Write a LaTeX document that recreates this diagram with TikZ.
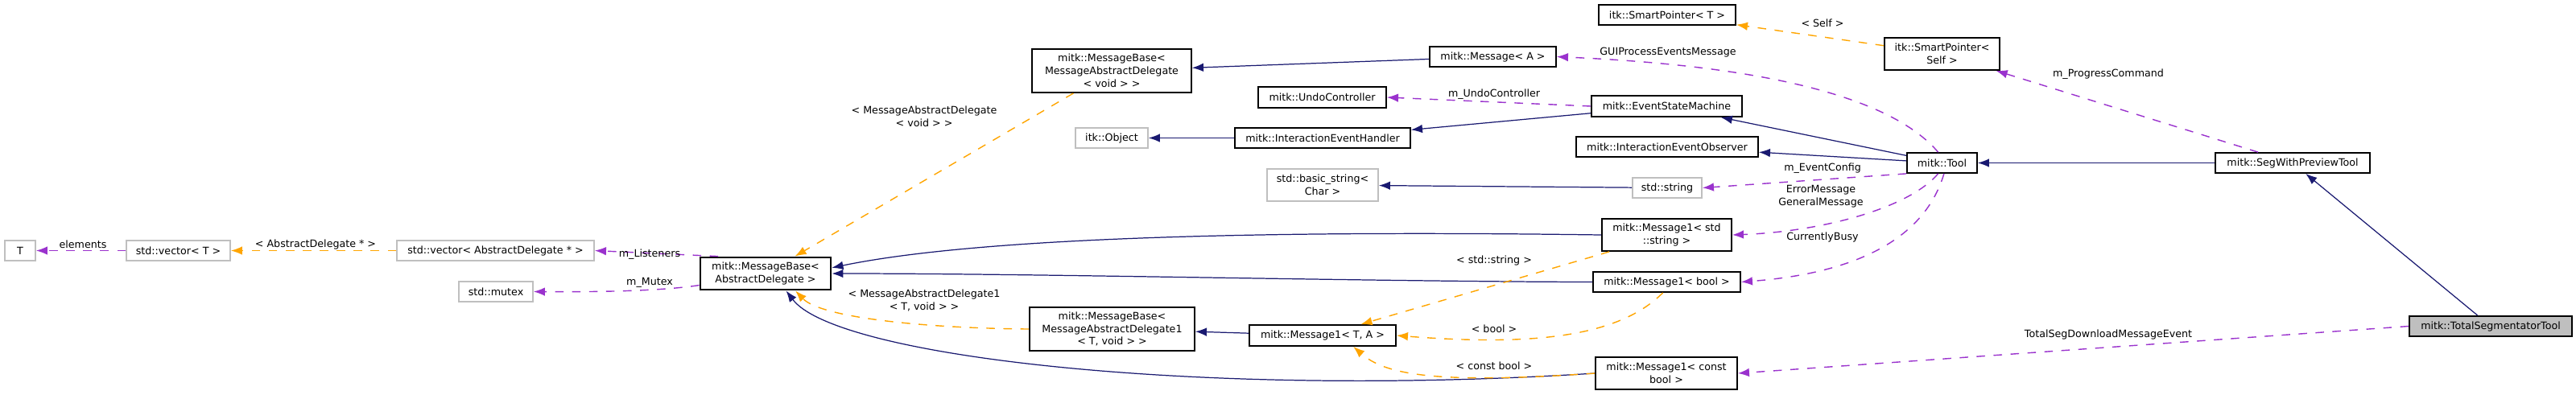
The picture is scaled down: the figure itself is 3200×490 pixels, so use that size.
\documentclass[tikz,border=0pt]{standalone}
\usepackage{fontspec}
\setmainfont{DejaVu Sans}
\usetikzlibrary{arrows.meta}
\definecolor{inhcol}{HTML}{191970}
\definecolor{tplcol}{HTML}{FFA500}
\definecolor{usecol}{HTML}{9A32CD}
\definecolor{extcol}{HTML}{BFBFBF}
\tikzset{
    cls/.style={
        rectangle,
        draw=black, % 类框
        line width=0.5pt,
        fill=white,
        inner sep=0,
        align=center,
        font=\fontsize{3.6}{4.5}\selectfont
    },
    ext/.style={
        cls,
        draw=extcol % 外部类
    },
    focus/.style={
        cls,
        fill=extcol
    },
    sz/.style 2 args={minimum width=#1*0.01cm, minimum height=#2*0.01cm},
    inh/.style={draw=inhcol, line width=0.35pt, -{Latex[length=4pt,width=3pt]}},
    tmpl/.style={draw=tplcol, line width=0.4pt, dashed, -{Latex[length=4pt,width=3pt]}},
    use/.style={draw=usecol, line width=0.4pt, dashed, -{Latex[length=4pt,width=3pt]}},
    lbl/.style={inner sep=0, align=center, font=\fontsize{3.6}{4.5}\selectfont}
}
\begin{document}
\begin{tikzpicture}[x=0.01cm, y=-0.01cm]
    \useasboundingbox (0,0) rectangle (3200,490);
    % 类节点
    \node[ext, sz={38}{25}] (t) at (25,311.5) {T};
    \node[ext, sz={129}{25}] (vecT) at (221.5,311.5) {std::vector< T >};
    \node[ext, sz={245}{25}] (vecAD) at (615.5,311.5) {std::vector< AbstractDelegate * >};
    \node[ext, sz={92}{25}] (mutex) at (616,362.5) {std::mutex};
    \node[cls, sz={162}{40}, line width=0.8pt] (mbAD) at (951,340) {mitk::MessageBase<\\AbstractDelegate >};
    \node[cls, sz={170}{25}] (spT) at (2071,18.5) {itk::SmartPointer< T >};
    \node[cls, sz={198}{54}] (mbVoid) at (1381,88) {mitk::MessageBase<\\MessageAbstractDelegate\\< void > >};
    \node[cls, sz={157}{25}] (msgA) at (1854.5,70.5) {mitk::Message< A >};
    \node[cls, sz={159}{26}] (undo) at (1642.5,121) {mitk::UndoController};
    \node[cls, sz={187}{26}] (esm) at (2070.5,132) {mitk::EventStateMachine};
    \node[ext, sz={90}{25}] (itkObj) at (1381,171.5) {itk::Object};
    \node[cls, sz={218}{25}] (ieh) at (1643,171.5) {mitk::InteractionEventHandler};
    \node[cls, sz={226}{25}] (ieo) at (2071,182.5) {mitk::InteractionEventObserver};
    \node[ext, sz={138}{40}] (bstr) at (1643,230) {std::basic\_string<\\Char >};
    \node[ext, sz={86}{25}] (str) at (2071,233.5) {std::string};
    \node[cls, sz={161}{40}] (m1str) at (2070.5,292) {mitk::Message1< std\\::string >};
    \node[cls, sz={183}{25}] (m1bool) at (2070.5,350.5) {mitk::Message1< bool >};
    \node[cls, sz={205}{54}] (mbVoid1) at (1381.5,409) {mitk::MessageBase<\\MessageAbstractDelegate1\\< T, void > >};
    \node[cls, sz={182}{26}] (m1TA) at (1643,417) {mitk::Message1< T, A >};
    \node[cls, sz={176}{40}] (m1cb) at (2070,464) {mitk::Message1< const\\bool >};
    \node[cls, sz={143}{40}] (spSelf) at (2412.5,67) {itk::SmartPointer<\\Self >};
    \node[cls, sz={87}{25}] (tool) at (2412.5,202.5) {mitk::Tool};
    \node[cls, sz={192}{25}] (swp) at (2848,202.5) {mitk::SegWithPreviewTool};
    \node[focus, sz={202}{25}] (tst) at (3094,405.5) {mitk::TotalSegmentatorTool};
    % 继承
    \draw[inh] (msgA) -- (mbVoid);
    \draw[inh] (esm) -- (ieh);
    \draw[inh] (ieh) -- (itkObj);
    \draw[inh] (tool) -- (esm);
    \draw[inh] (tool) -- (ieo);
    \draw[inh] (str) -- (bstr);
    \draw[inh] (swp) -- (tool);
    \draw[inh] (tst) -- (swp);
    \draw[inh] (m1TA) -- (mbVoid1);
    \draw[inh] (m1str.west) .. controls (1700,288) and (1250,288) .. (mbAD.5);
    \draw[inh] (m1bool.west) .. controls (1700,350) and (1300,340) .. (mbAD.east);
    \draw[inh] (m1cb.west) .. controls (1500,495) and (1040,445) .. (mbAD.-40);
    % 模板实例
    \draw[tmpl] (vecAD) -- (vecT);
    \draw[tmpl] (mbVoid) -- (mbAD);
    \draw[tmpl] (mbVoid1.west) .. controls (1150,408) and (1020,395) .. (mbAD.-30);
    \draw[tmpl] (spSelf) -- (spT);
    \draw[tmpl] (m1str) -- (m1TA);
    \draw[tmpl] (m1bool.250) .. controls (2010,420) and (1900,430) .. (m1TA.east);
    \draw[tmpl] (m1cb.west) .. controls (1780,478) and (1720,465) .. (m1TA.-20);
    % 成员使用
    \draw[use] (vecT) -- (t);
    \draw[use] (mbAD.160) -- (vecAD.east);
    \draw[use] (mbAD.-170) .. controls (820,362) and (740,363) .. (mutex.east);
    \draw[use] (esm.west) -- (undo.east);
    \draw[use] (tool.110) .. controls (2340,110) and (2150,80) .. (msgA.east);
    \draw[use] (swp) -- (spSelf);
    \draw[use] (tool.south west) -- (str.east);
    \draw[use] (tool.-110) .. controls (2370,260) and (2260,288) .. (m1str.east);
    \draw[use] (tool.-80) .. controls (2390,300) and (2300,340) .. (m1bool.east);
    \draw[use] (tst.west) -- (m1cb.east);
    % 边标签
    \node[lbl] (lElements) at (103,304) {elements};
    \node[lbl] (lAD) at (392,304) {< AbstractDelegate * >};
    \node[lbl] (lListeners) at (807,316) {m\_Listeners};
    \node[lbl] (lMutex) at (807,351) {m\_Mutex};
    \node[lbl] (lMADvoid) at (1148,145) {< MessageAbstractDelegate\\< void > >};
    \node[lbl] (lMAD1) at (1148,373) {< MessageAbstractDelegate1\\< T, void > >};
    \node[lbl] (lUndo) at (1856,117) {m\_UndoController};
    \node[lbl] (lGUI) at (2072,65) {GUIProcessEventsMessage};
    \node[lbl] (lSelf) at (2264,29) {< Self >};
    \node[lbl] (lProgress) at (2619,92) {m\_ProgressCommand};
    \node[lbl] (lConfig) at (2264,209) {m\_EventConfig};
    \node[lbl] (lMsgs) at (2262,244) {ErrorMessage\\GeneralMessage};
    \node[lbl] (lBusy) at (2264,295) {CurrentlyBusy};
    \node[lbl] (lDownload) at (2619,416) {TotalSegDownloadMessageEvent};
    \node[lbl] (lStr) at (1856,324) {< std::string >};
    \node[lbl] (lBool) at (1856,409) {< bool >};
    \node[lbl] (lCBool) at (1856,455) {< const bool >};
\end{tikzpicture}
\end{document}
